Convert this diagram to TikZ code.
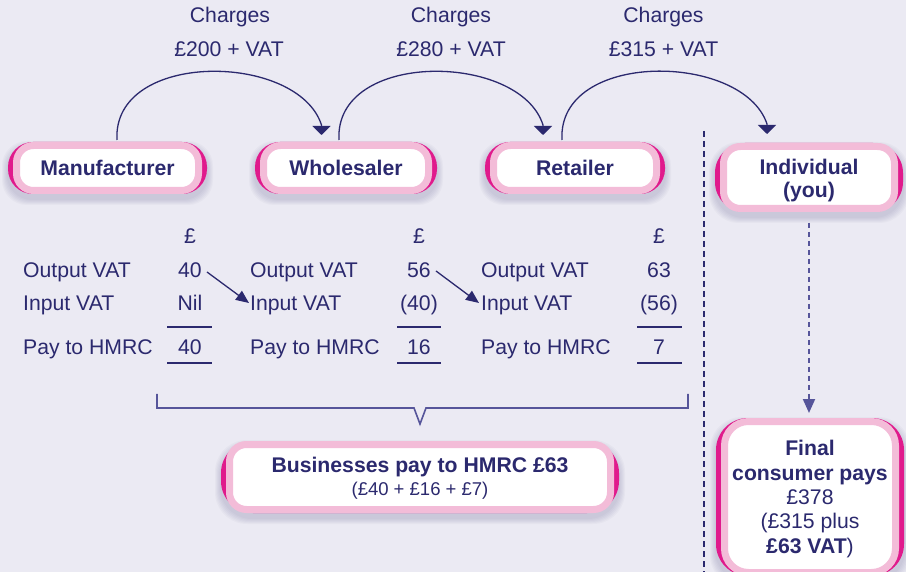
\documentclass[tikz,border=0pt]{standalone}
\usepackage{fontspec}
\setmainfont{Liberation Sans}
\usetikzlibrary{arrows.meta,calc}
\definecolor{bgc}{HTML}{EBEAF3}
\definecolor{navy}{HTML}{2B296E}
\definecolor{pinkL}{HTML}{F3BCD8}
\definecolor{magC}{HTML}{E01A8C}
\definecolor{brk}{HTML}{56559A}
\definecolor{shd}{HTML}{3A3870}
\pgfdeclarelayer{bgL}\pgfdeclarelayer{shadowL}\pgfdeclarelayer{decoL}
\pgfsetlayers{bgL,shadowL,decoL,main}
\newcommand\fsz{\fontsize{21.2}{23}\selectfont}
\newcommand\fsm{\fontsize{18.5}{23}\selectfont}
\newcommand\boxdeco[2]{%
  \begin{pgfonlayer}{shadowL}
    \foreach \k in {1,...,6}{%
      \fill[shd, opacity=0.03, rounded corners=#2]
        ([xshift={(-5-\k)*1pt}, yshift={(-5-\k)*1pt}]#1.south west) rectangle
        ([xshift={(5+\k)*1pt}, yshift={(-5+\k)*1pt}]#1.north east);}
  \end{pgfonlayer}
  \begin{pgfonlayer}{decoL}
    \fill[magC, rounded corners=#2] ([xshift=-5pt]#1.south west) rectangle ([xshift=5pt]#1.north east);
  \end{pgfonlayer}}
\tikzset{
  bx/.style={draw=pinkL, fill=white, line width=7pt, rounded corners=17pt, align=center,
             text=navy, inner sep=0pt, font=\fsz\bfseries},
  tb/.style={font=\fsz, text=navy, inner sep=0pt, text height=15pt, text depth=0pt},
  arc/.style={draw=navy, line width=1.3pt, -{Triangle[width=18pt,length=9pt]}},
  diag/.style={draw=navy, line width=1.3pt, -{Triangle[width=11pt,length=13pt]}},
  uline/.style={draw=navy, line width=1.4pt},
}
\begin{document}
\begin{tikzpicture}[x=1pt,y=-1pt]
\useasboundingbox (0,0) rectangle (906,572);
\begin{pgfonlayer}{bgL}
  \fill[bgc] (0,0) rectangle (906,572);
\end{pgfonlayer}

% boxes
\node[bx, minimum width=182pt, minimum height=45pt] (man) at (107.5,168) {Manufacturer};
\node[bx, minimum width=165pt, minimum height=45pt] (whole) at (346,168) {Wholesaler};
\node[bx, minimum width=163pt, minimum height=45pt] (ret) at (575,168) {Retailer};
\node[bx, minimum width=171pt, minimum height=62pt,
      font=\fontsize{21.2}{22.5}\selectfont\bfseries] (ind) at (809,177.5) {\rule{0pt}{21.5pt}Individual\\(you)};
\node[bx, minimum width=381pt, minimum height=65pt] (bus) at (420,477)
  {\rule{0pt}{17.5pt}Businesses pay to HMRC £63\\{\fsm\mdseries (£40 + £16 + £7)}};
\node[bx, minimum width=171pt, minimum height=151pt, rounded corners=24pt,
      font=\fontsize{21.2}{24.3}\selectfont\bfseries] (fin) at (810,497)
  {\rule{0pt}{19.5pt}Final\\consumer pays\\{\mdseries £378}\\{\mdseries (£315 plus}\\£63 VAT{\mdseries )}};
\boxdeco{man}{25pt}
\boxdeco{whole}{25pt}
\boxdeco{ret}{25pt}
\boxdeco{ind}{30pt}
\boxdeco{bus}{32pt}
\boxdeco{fin}{32pt}

% charges labels
\node[tb] (c1) at (230,15) {Charges};
\node[tb] (p1) at (229,49) {£200 + VAT};
\node[tb] (c2) at (451,15) {Charges};
\node[tb] (p2) at (451,49) {£280 + VAT};
\node[tb] (c3) at (663.5,15) {Charges};
\node[tb] (p3) at (663.5,49) {£315 + VAT};

% arcs
\draw[arc] ([xshift=9.5pt,yshift=2pt]man.north) .. controls (112,50) and (298,52) ..
  ([xshift=-24.5pt,yshift=17pt]whole.north) -- ([xshift=-24.5pt,yshift=7pt]whole.north);
\draw[arc] ([xshift=-7pt,yshift=2pt]whole.north) .. controls (334,50) and (520,52) ..
  ([xshift=-32pt,yshift=17pt]ret.north) -- ([xshift=-32pt,yshift=7pt]ret.north);
\draw[arc] ([xshift=-13pt,yshift=2pt]ret.north) .. controls (557,50) and (743,52) ..
  ([xshift=-42pt,yshift=19pt]ind.north) -- ([xshift=-42pt,yshift=9pt]ind.north);

% table column 1
\node[tb] (mP) at (190,236) {£};
\node[tb, anchor=west] (mOL) at (23,270) {Output VAT};
\node[tb] (mOV) at (190,270) {40};
\node[tb, anchor=west] (mIL) at (23,303) {Input VAT};
\node[tb] (mIV) at (190,303) {Nil};
\node[tb, anchor=west] (mHL) at (23,347) {Pay to HMRC};
\node[tb] (mHV) at (190,347) {40};
\draw[uline] (167,327) -- (212,327);
\draw[uline] (167,363) -- (212,363);
% column 2
\node[tb] (wP) at (419,236) {£};
\node[tb, anchor=west] (wOL) at (250,270) {Output VAT};
\node[tb] (wOV) at (419,270) {56};
\node[tb, anchor=west] (wIL) at (250,303) {Input VAT};
\node[tb] (wIV) at (419,303) {(40)};
\node[tb, anchor=west] (wHL) at (250,347) {Pay to HMRC};
\node[tb] (wHV) at (419,347) {16};
\draw[uline] (397,327) -- (441,327);
\draw[uline] (397,363) -- (441,363);
% column 3
\node[tb] (rP) at (659,236) {£};
\node[tb, anchor=west] (rOL) at (481,270) {Output VAT};
\node[tb] (rOV) at (659,270) {63};
\node[tb, anchor=west] (rIL) at (481,303) {Input VAT};
\node[tb] (rIV) at (659,303) {(56)};
\node[tb, anchor=west] (rHL) at (481,347) {Pay to HMRC};
\node[tb] (rHV) at (659,347) {7};
\draw[uline] (637,327) -- (682,327);
\draw[uline] (637,363) -- (682,363);

% diagonal arrows
\draw[diag] ([xshift=5pt,yshift=-2pt]mOV.east) -- ([xshift=-1pt]wIL.west);
\draw[diag] ([xshift=5pt,yshift=-1pt]wOV.east) -- ([xshift=-2pt]rIL.west);

% bracket
\draw[brk, line width=1.6pt] (157,394) -- (157,408) -- (414,408) -- (420,424) -- (426,408) -- (688,408) -- (688,394);

% divider
\draw[navy, line width=1.5pt, dash pattern=on 6pt off 4pt] (704,131) -- (704,572);

% dashed arrow
\draw[brk, line width=2pt, dash pattern=on 5pt off 4pt, -{Triangle[width=12pt,length=14pt]}]
  ([yshift=-11pt]ind.south) -- ([yshift=5pt]ind.south |- fin.north);
\end{tikzpicture}
\end{document}
